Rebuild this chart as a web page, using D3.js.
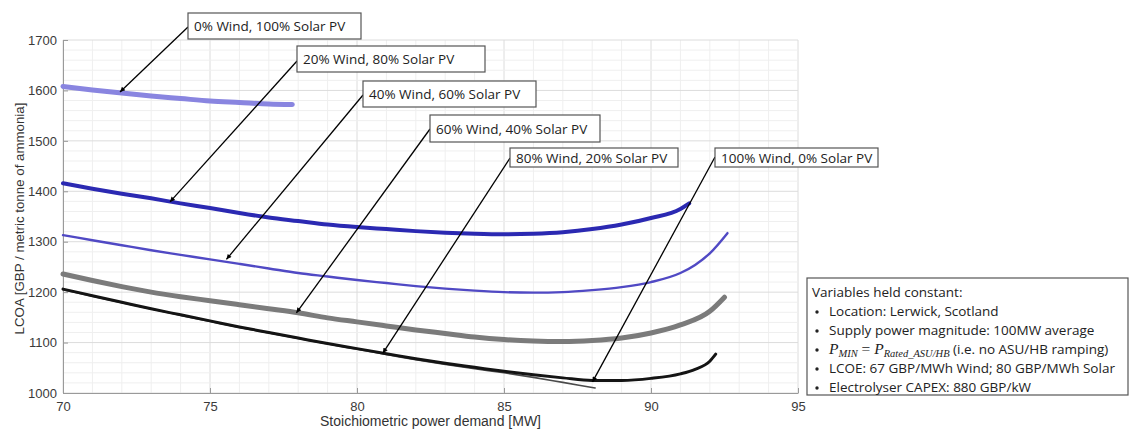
<!DOCTYPE html>
<html>
<head>
<meta charset="utf-8">
<script src="https://cdn.jsdelivr.net/npm/d3@7"></script>
<style>
  html, body { margin: 0; padding: 0; background: #fff; }
  svg { display: block; }
</style>
</head>
<body>
<svg id="chart" width="1130" height="432"></svg>
<script>
// ---------------- DATA ----------------
const seriesNames = [
  "0% Wind, 100% Solar PV",
  "20% Wind, 80% Solar PV",
  "40% Wind, 60% Solar PV",
  "60% Wind, 40% Solar PV",
  "80% Wind, 20% Solar PV",
  "100% Wind, 0% Solar PV"
];

const x0 = [70, 71, 72, 73, 74, 75, 76, 77, 77.8];
const y0 = [1608, 1601, 1595, 1589, 1584, 1579, 1576, 1573, 1572];

const x20 = [70, 71, 72, 73, 74, 75, 76, 77, 78, 79, 80, 81, 82, 83, 84, 85, 86, 87, 88, 89, 90, 91, 91.3];
const y20 = [1416, 1405, 1395, 1386, 1376, 1367, 1357, 1348, 1341, 1334, 1329, 1325, 1321, 1318, 1316, 1315, 1316, 1319, 1325, 1334, 1347, 1365, 1376];

const x40 = [70, 71, 72, 73, 74, 75, 76, 77, 78, 79, 80, 81, 82, 83, 84, 85, 86, 87, 88, 89, 90, 91, 91.5, 92, 92.6];
const y40 = [1313, 1303, 1293, 1283, 1274, 1265, 1256, 1247, 1238, 1231, 1224, 1218, 1212, 1207, 1203, 1200, 1199, 1200, 1204, 1210, 1220, 1238, 1254, 1277, 1317];

const x60 = [70, 71, 72, 73, 74, 75, 76, 77, 78, 79, 80, 81, 82, 83, 84, 85, 86, 87, 88, 89, 90, 91, 92, 92.5];
const y60 = [1236, 1223, 1211, 1200, 1191, 1183, 1175, 1167, 1159, 1149, 1141, 1133, 1125, 1118, 1111, 1106, 1103, 1102, 1104, 1109, 1119, 1135, 1162, 1190];

const x80 = [70, 71, 72, 73, 74, 75, 76, 77, 78, 79, 80, 81, 82, 83, 84, 85, 86, 87, 88, 89, 90, 91, 91.5, 92, 92.2];
const y80 = [1206, 1193, 1180, 1167, 1155, 1143, 1131, 1120, 1109, 1098, 1088, 1078, 1068, 1059, 1051, 1043, 1036, 1030, 1025, 1025, 1029, 1038, 1047, 1063, 1077];

const x100 = [70, 72, 74, 76, 78, 80, 82, 84, 85, 86, 87, 88.1];
const y100 = [1205, 1179, 1154, 1130, 1108, 1087, 1066, 1048, 1040, 1031, 1021, 1010];

// arrow head targets in data coordinates (one per annotation)
const arrowX = [71.94, 73.64, 75.56, 77.94, 80.88, 88.01];
const arrowY = [1597, 1379, 1265, 1159, 1079, 1022];

const xTicks = [70, 75, 80, 85, 90, 95];
const yTicks = [1000, 1100, 1200, 1300, 1400, 1500, 1600, 1700];
const xLabel = "Stoichiometric power demand [MW]";
const yLabel = "LCOA [GBP / metric tonne of ammonia]";

const noteTitle = "Variables held constant:";
const noteLines = [
  "Location: Lerwick, Scotland",
  "Supply power magnitude: 100MW average",
  "__PMIN__",
  "LCOE: 67 GBP/MWh Wind; 80 GBP/MWh Solar",
  "Electrolyser CAPEX: 880 GBP/kW"
];
const pminSuffix = " (i.e. no ASU/HB ramping)";

// ---------------- LAYOUT ----------------
const svg = d3.select("#chart");
const L = 63, R = 798, T = 40, B = 393;
const x = d3.scaleLinear().domain([70, 95]).range([L, R]);
const y = d3.scaleLinear().domain([1000, 1700]).range([B, T]);

const tickFont = "'Liberation Sans', Arial, sans-serif";
const boxFont = "'Open Sans', 'Noto Sans', sans-serif";

// grid
const grid = svg.append("g");
grid.selectAll(".vminor").data(d3.range(70, 95.01, 1)).join("line")
  .attr("x1", d => x(d)).attr("x2", d => x(d)).attr("y1", T).attr("y2", B)
  .attr("stroke", d => (d % 5 === 0 ? "#dcdcdc" : "#efefef")).attr("stroke-width", 1);
grid.selectAll(".hminor").data(d3.range(1000, 1700.01, 20)).join("line")
  .attr("x1", L).attr("x2", R).attr("y1", d => y(d)).attr("y2", d => y(d))
  .attr("stroke", d => (d % 100 === 0 ? "#dcdcdc" : "#efefef")).attr("stroke-width", 1);

// axes
const xAxis = svg.append("g").attr("transform", `translate(0,${B})`)
  .call(d3.axisBottom(x).tickValues(xTicks).tickSizeInner(-5).tickSizeOuter(0).tickPadding(9).tickFormat(d3.format("d")));
const yAxis = svg.append("g").attr("transform", `translate(${L},0)`)
  .call(d3.axisLeft(y).tickValues(yTicks).tickSizeInner(-5).tickSizeOuter(0).tickPadding(6).tickFormat(d3.format("d")));
[xAxis, yAxis].forEach(a => {
  a.select(".domain").attr("stroke", "#9a9a9a");
  a.selectAll(".tick line").attr("stroke", "#9a9a9a");
  a.selectAll(".tick text").attr("fill", "#3a3a3a").style("font-family", tickFont).style("font-size", "13px");
});

svg.append("text").attr("x", (L + R) / 2).attr("y", 426).attr("text-anchor", "middle")
  .style("font-family", tickFont).style("font-size", "14px").attr("fill", "#333").text(xLabel);
svg.append("text").attr("transform", `translate(24,${(T + B) / 2 + 2}) rotate(-90)`).attr("text-anchor", "middle")
  .style("font-family", tickFont).style("font-size", "13.3px").attr("fill", "#333").text(yLabel);

// series
const series = [
  { xs: x100, ys: y100, color: "#4a4a4a", w: 1.6 },
  { xs: x0, ys: y0, color: "#8985e0", w: 5 },
  { xs: x20, ys: y20, color: "#2b29b2", w: 4 },
  { xs: x40, ys: y40, color: "#5049c4", w: 2.4 },
  { xs: x60, ys: y60, color: "#7b7b7b", w: 5 },
  { xs: x80, ys: y80, color: "#141414", w: 3 }
];
const line = d3.line().x(d => x(d[0])).y(d => y(d[1])).curve(d3.curveMonotoneX);
series.forEach(s => {
  const pts = s.xs.map((v, i) => [v, s.ys[i]]);
  svg.append("path").datum(pts).attr("d", line)
    .attr("fill", "none").attr("stroke", s.color).attr("stroke-width", s.w)
    .attr("stroke-linecap", "round").attr("stroke-linejoin", "round");
});

// annotations: boxes (pixel layout) with arrows to data points
const boxes = [
  { bx: 188, by: 13, bw: 173, bh: 26, ty: 27 },
  { bx: 297, by: 46, bw: 188, bh: 26, ty: 61 },
  { bx: 363, by: 81, bw: 173, bh: 26, ty: 95 },
  { bx: 430, by: 115, bw: 170, bh: 27, ty: 129 },
  { bx: 510, by: 148, bw: 168, bh: 19, ty: 158 },
  { bx: 715, by: 148, bw: 163, bh: 19, ty: 157 }
];
svg.append("defs").append("marker").attr("id", "ah")
  .attr("viewBox", "0 0 10 10").attr("refX", 10).attr("refY", 5)
  .attr("markerWidth", 7).attr("markerHeight", 5).attr("markerUnits", "userSpaceOnUse")
  .attr("orient", "auto")
  .append("path").attr("d", "M0,0 L10,5 L0,10 Z").attr("fill", "#000");

boxes.forEach((b, i) => {
  svg.append("line").attr("x1", b.bx).attr("y1", b.ty)
    .attr("x2", x(arrowX[i])).attr("y2", y(arrowY[i]))
    .attr("stroke", "#000").attr("stroke-width", 1.3).attr("marker-end", "url(#ah)");
  svg.append("rect").attr("x", b.bx).attr("y", b.by).attr("width", b.bw).attr("height", b.bh)
    .attr("fill", "#fff").attr("stroke", "#555").attr("stroke-width", 1.2);
  svg.append("text").attr("x", b.bx + 6).attr("y", b.by + b.bh / 2 + 5)
    .style("font-family", boxFont).style("font-size", "13.5px").attr("fill", "#222")
    .text(seriesNames[i]);
});

// note box
const nb = { x: 807, y: 278, w: 321, h: 117 };
svg.append("rect").attr("x", nb.x).attr("y", nb.y).attr("width", nb.w).attr("height", nb.h)
  .attr("fill", "#fff").attr("stroke", "#555").attr("stroke-width", 1.2);
svg.append("text").attr("x", 812).attr("y", 297)
  .style("font-family", boxFont).style("font-size", "13.5px").attr("fill", "#222").text(noteTitle);
noteLines.forEach((t, i) => {
  const yy = 316 + i * 19;
  svg.append("circle").attr("cx", 817).attr("cy", yy - 4).attr("r", 1.7).attr("fill", "#222");
  const tx = svg.append("text").attr("x", 829).attr("y", yy)
    .style("font-family", boxFont).style("font-size", "13.5px").attr("fill", "#222");
  if (t === "__PMIN__") {
    const serif = "'Liberation Serif', 'DejaVu Serif', serif";
    tx.append("tspan").style("font-family", serif).style("font-style", "italic").style("font-size", "15.5px").text("P");
    tx.append("tspan").attr("dy", 3).style("font-family", serif).style("font-style", "italic").style("font-size", "10.5px").text("MIN");
    tx.append("tspan").attr("dy", -3).style("font-family", serif).style("font-size", "15.5px").text(" = ");
    tx.append("tspan").style("font-family", serif).style("font-style", "italic").style("font-size", "15.5px").text("P");
    tx.append("tspan").attr("dy", 3).style("font-family", serif).style("font-style", "italic").style("font-size", "10.5px").text("Rated_ASU/HB");
    tx.append("tspan").attr("dy", -3).text(pminSuffix);
  } else {
    tx.text(t);
  }
});
</script>
</body>
</html>
